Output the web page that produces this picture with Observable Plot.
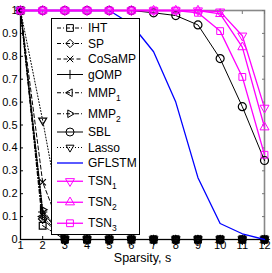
<!DOCTYPE html>
<html><head><meta charset="utf-8">
<script src="https://cdn.jsdelivr.net/npm/d3@7"></script>
<script src="https://cdn.jsdelivr.net/npm/@observablehq/plot@0.6"></script>
<style>body{margin:0;background:#fff}</style>
</head><body><div id="chart"></div>
<script>
// ---- data ----
const sparsity = [1,2,3,4,5,6,7,8,9,10,11,12];
const xTicks = [1,2,3,4,5,6,7,8,9,10,11,12];
const yTicks = [0,0.1,0.2,0.3,0.4,0.5,0.6,0.7,0.8,0.9,1];
const seriesNames = ["IHT","SP","CoSaMP","gOMP","MMP_1","MMP_2","SBL","Lasso","GFLSTM","TSN_1","TSN_2","TSN_3"];
const IHT    = [1,0.06,0,0,0,0,0,0,0,0,0,0];
const SP     = [1,0.09,0,0,0,0,0,0,0,0,0,0];
const CoSaMP = [1,0.25,0,0,0,0,0,0,0,0,0,0];
const gOMP   = [1,0.12,0,0,0,0,0,0,0,0,0,0];
const MMP1   = [1,0.10,0,0,0,0,0,0,0,0,0,0];
const MMP2   = [1,0.13,0,0,0,0,0,0,0,0,0,0];
const SBL    = [1,1,1,1,1,1,0.99,0.978,0.937,0.79,0.58,0.345];
const Lasso  = [1,0.52,0,0,0,0,0,0,0,0,0,0];
const GFLSTM = [1,1,1,1,1,0.94,0.82,0.6,0.27,0.07,0.025,0];
const TSN1   = [1,1,1,1,1,1,1,1,1,0.995,0.89,0.575];
const TSN2   = [1,1,1,1,1,1,1,1,1,0.985,0.84,0.49];
const TSN3   = [1,1,1,1,1,1,1,1,0.99,0.91,0.71,0.37];
const seriesValues = [IHT,SP,CoSaMP,gOMP,MMP1,MMP2,SBL,Lasso,GFLSTM,TSN1,TSN2,TSN3];

// ---- symbols (MATLAB-like markers) ----
function sym(fn){ return {draw(c,size){ const r=Math.sqrt(size/Math.PI); fn(c,r); }}; }
const S = {
  square: sym((c,r)=>{const h=r*0.85; c.moveTo(-h,-h); c.lineTo(h,-h); c.lineTo(h,h); c.lineTo(-h,h); c.closePath();}),
  diamond: sym((c,r)=>{const h=r*1.05; c.moveTo(0,-h); c.lineTo(h,0); c.lineTo(0,h); c.lineTo(-h,0); c.closePath();}),
  times: sym((c,r)=>{const h=r*0.8; c.moveTo(-h,-h); c.lineTo(h,h); c.moveTo(h,-h); c.lineTo(-h,h);}),
  plus: sym((c,r)=>{const h=r*1.15; c.moveTo(-h,0); c.lineTo(h,0); c.moveTo(0,-h); c.lineTo(0,h);}),
  circle: sym((c,r)=>{c.moveTo(r,0); c.arc(0,0,r,0,2*Math.PI);}),
  tri: (ang, k) => sym((c,r)=>{const R=r*k; for(let i=0;i<3;i++){const a=ang+i*2*Math.PI/3; const x=R*Math.cos(a), y=R*Math.sin(a); if(i===0) c.moveTo(x,y); else c.lineTo(x,y);} c.closePath();})
};
const triDown = S.tri(Math.PI/2, 1.15), triUp = S.tri(-Math.PI/2, 1.15);
const triLeft = S.tri(Math.PI, 1.1), triRight = S.tri(0, 1.1);
const triDownM = S.tri(Math.PI/2, 1.3), triUpM = S.tri(-Math.PI/2, 1.3);

const DASHDOT = "4,2,1,2", DASHED = "4,2.5", DOTTED = "1,2";
const styles = [
  {color:"black", dash:DASHDOT, symbol:S.square},
  {color:"black", dash:DASHDOT, symbol:S.diamond},
  {color:"black", dash:DASHED, symbol:S.times},
  {color:"black", dash:null, symbol:S.plus},
  {color:"black", dash:DASHDOT, symbol:triLeft},
  {color:"black", dash:DASHDOT, symbol:triRight},
  {color:"black", dash:null, symbol:S.circle},
  {color:"black", dash:DOTTED, symbol:triDown},
  {color:"#0000ff", dash:null, symbol:null, width:1.3},
  {color:"#ff00ff", dash:null, symbol:triDownM, width:1.3},
  {color:"#ff00ff", dash:null, symbol:triUpM, width:1.3},
  {color:"#ff00ff", dash:null, symbol:S.square, width:1.3}
];

const marks = [
  Plot.frame({stroke:"#888", strokeWidth:1.6}),
  Plot.ruleX([1], {stroke:"black"}),
  Plot.ruleY([0], {stroke:"black"}),
  Plot.axisY({anchor:"left", ticks:yTicks, tickSize:0, tickPadding:3, tickFormat:d=>String(d), fontSize:11}),
  Plot.axisY({anchor:"left", ticks:yTicks, tickSize:-3, tickFormat:()=>""}),
  Plot.axisY({anchor:"right", ticks:yTicks, tickSize:-3, tickFormat:()=>"", stroke:"#777"}),
  Plot.axisX({anchor:"bottom", ticks:xTicks, tickSize:0, tickPadding:2, tickFormat:d=>String(d), fontSize:11}),
  Plot.axisX({anchor:"bottom", ticks:xTicks, tickSize:-3, tickFormat:()=>""}),
  Plot.axisX({anchor:"top", ticks:xTicks, tickSize:-3, tickFormat:()=>"", stroke:"#777"}),
  Plot.text(["Sparsity, s"], {frameAnchor:"bottom", dy:22, fontSize:12.5, fill:"black"})
];
seriesValues.forEach((vals, i) => {
  const st = styles[i];
  const rows = sparsity.map((s, j) => ({s, v: vals[j]}));
  marks.push(Plot.line(rows, {x:"s", y:"v", stroke:st.color, strokeWidth:st.width||1, strokeDasharray:st.dash||undefined}));
  if (st.symbol) marks.push(Plot.dot(rows, {x:"s", y:"v", symbol:st.symbol, r:4, stroke:st.color, fill:"none", strokeWidth:st.color==="black"?1.2:1}));
});

const svgEl = Plot.plot({
  width:272, height:273,
  marginLeft:20, marginRight:8, marginTop:10, marginBottom:34,
  x:{domain:[1,12], label:null},
  y:{domain:[0,1], label:null},
  style:{fontFamily:"'Liberation Sans', Arial, Helvetica, sans-serif", fontSize:"11px", background:"white", color:"black"},
  marks
});
document.getElementById("chart").appendChild(svgEl);

// ---- legend (inside axes, MATLAB style) ----
const svg = d3.select(svgEl);
const lg = svg.append("g")
  .attr("font-family","'Liberation Sans', Arial, Helvetica, sans-serif")
  .attr("font-size",12).attr("text-anchor","start");
lg.append("rect").attr("x",51.5).attr("y",18.5).attr("width",88).attr("height",216).attr("fill","white").attr("stroke","black");
let y = 28;
seriesNames.forEach((name, i) => {
  const hasSub = name.includes("_");
  if (i > 0) {
    const prevSub = seriesNames[i-1].includes("_");
    y += ((prevSub?21:15.5) + (hasSub?21:15.5))/2;
  }
  const st = styles[i];
  lg.append("line").attr("x1",57).attr("x2",83).attr("y1",y).attr("y2",y)
    .attr("stroke",st.color).attr("stroke-width",st.width||1)
    .attr("stroke-dasharray",st.dash||null);
  if (st.symbol) lg.append("path").attr("transform",`translate(70,${y})`)
    .attr("d", d3.symbol().type(st.symbol).size(Math.PI*16)())
    .attr("fill","none").attr("stroke",st.color);
  const [base, sub] = name.split("_");
  const t = lg.append("text").attr("x",88).attr("y",y).attr("dy","0.35em").attr("text-anchor","start").attr("fill","black").text(base);
  if (sub) t.append("tspan").attr("font-size",8.5).attr("dy",4).text(sub);
});
</script>
</body></html>
